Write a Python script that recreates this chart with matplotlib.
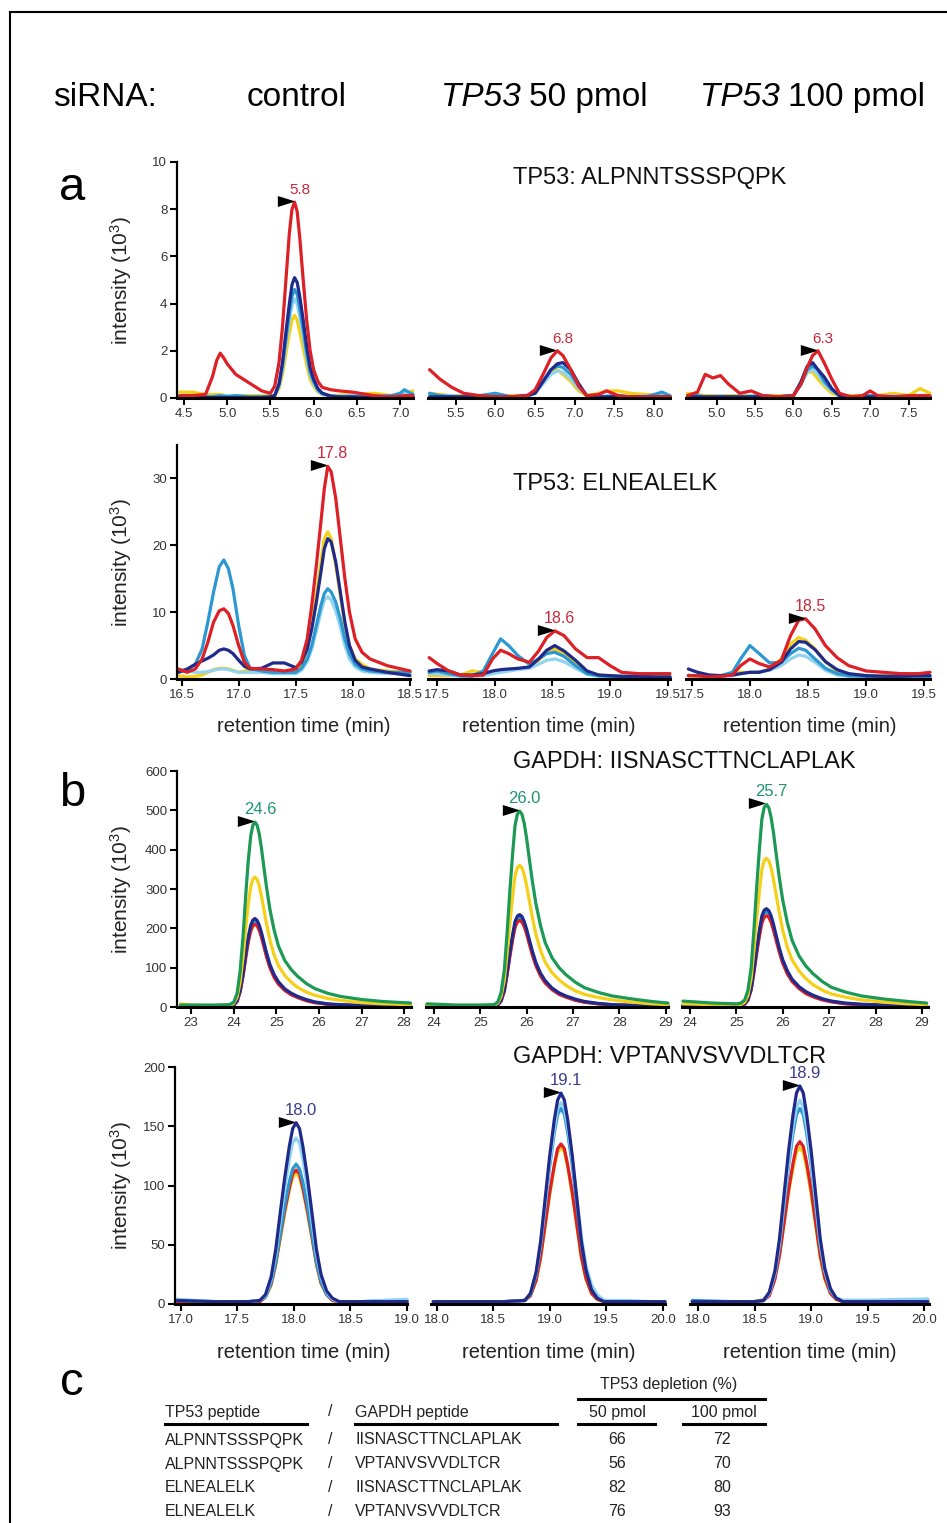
import matplotlib.pyplot as plt
from matplotlib.lines import Line2D
from matplotlib.transforms import offset_copy

plt.rcParams['font.family'] = ['Liberation Sans', 'DejaVu Sans']
plt.rcParams['mathtext.fontset'] = 'custom'
plt.rcParams['mathtext.rm'] = 'Liberation Sans'
plt.rcParams['mathtext.it'] = 'Liberation Sans:italic'

W, H = 947, 1523

# ---- data: retention time grids and intensities ----
# TP53: ALPNNTSSSPQPK (10^3), panels: control, 50 pmol, 100 pmol
alp_time = [
    [4.45, 4.6, 4.75, 4.83, 4.88, 4.92, 4.96, 5.0, 5.1, 5.25, 5.4, 5.5,
     5.55, 5.6, 5.64, 5.68, 5.72, 5.75, 5.78, 5.81, 5.84, 5.88, 5.92, 5.96, 6.0, 6.05, 6.1, 6.2,
     6.3, 6.45, 6.7, 6.9, 7.0, 7.05, 7.1, 7.15],
    [5.17, 5.3, 5.45, 5.6, 5.8, 6.0, 6.2, 6.4, 6.5, 6.6, 6.7, 6.78, 6.85, 6.95, 7.05, 7.15, 7.3, 7.4, 7.55, 7.7, 7.9, 8.1, 8.2],
    [4.62, 4.75, 4.85, 4.95, 5.05, 5.15, 5.3, 5.45, 5.6, 5.8, 6.0, 6.1, 6.18, 6.25, 6.32, 6.4, 6.5, 6.6, 6.75, 6.9, 7.0, 7.1, 7.3, 7.5, 7.65, 7.78],
]
alp_red = [
    [0.1, 0.1, 0.15, 0.9, 1.6, 1.9, 1.7, 1.45, 1.0, 0.65, 0.3, 0.2,
     0.5, 1.5, 3.0, 5.0, 7.0, 8.0, 8.3, 7.9, 6.8, 5.0, 3.3, 2.0, 1.2, 0.7, 0.45, 0.35,
     0.3, 0.25, 0.1, 0.05, 0.08, 0.1, 0.1, 0.1],
    [1.2, 0.8, 0.45, 0.2, 0.1, 0.05, 0.05, 0.1, 0.35, 1.0, 1.7, 2.0, 1.8, 1.2, 0.5, 0.1, 0.15, 0.3, 0.1, 0.05, 0.05, 0.05, 0.05],
    [0.1, 0.25, 1.0, 0.85, 0.95, 0.6, 0.2, 0.3, 0.1, 0.05, 0.1, 0.6, 1.3, 1.8, 2.0, 1.5, 0.8, 0.2, 0.05, 0.1, 0.3, 0.1, 0.05, 0.1, 0.1, 0.1],
]
alp_navy = [
    [0.05, 0.05, 0.02, 0.02, 0.02, 0.02, 0.02, 0.02, 0.02, 0.02, 0.02, 0.05,
     0.1, 0.6, 1.5, 2.8, 4.0, 4.8, 5.1, 4.9, 4.3, 3.3, 2.2, 1.3, 0.8, 0.4, 0.2, 0.08,
     0.05, 0.05, 0.02, 0.02, 0.03, 0.05, 0.05, 0.05],
    [0.05, 0.05, 0.05, 0.05, 0.05, 0.05, 0.05, 0.1, 0.2, 0.7, 1.2, 1.45, 1.5, 1.2, 0.6, 0.1, 0.05, 0.05, 0.05, 0.05, 0.05, 0.05, 0.05],
    [0.05, 0.05, 0.05, 0.05, 0.05, 0.05, 0.05, 0.05, 0.05, 0.05, 0.1, 0.7, 1.35, 1.5, 1.2, 0.9, 0.4, 0.1, 0.05, 0.05, 0.05, 0.05, 0.05, 0.05, 0.05, 0.05],
]
alp_cyan = [
    [0.1, 0.05, 0.05, 0.05, 0.08, 0.1, 0.08, 0.05, 0.1, 0.05, 0.05, 0.05,
     0.1, 0.55, 1.35, 2.5, 3.6, 4.3, 4.6, 4.4, 3.8, 2.9, 1.9, 1.1, 0.7, 0.35, 0.2, 0.08,
     0.05, 0.05, 0.05, 0.1, 0.2, 0.35, 0.25, 0.15],
    [0.2, 0.1, 0.05, 0.05, 0.1, 0.2, 0.05, 0.1, 0.25, 0.7, 1.2, 1.35, 1.3, 1.0, 0.5, 0.1, 0.05, 0.05, 0.1, 0.05, 0.05, 0.25, 0.1],
    [0.1, 0.1, 0.05, 0.05, 0.05, 0.05, 0.05, 0.05, 0.1, 0.05, 0.1, 0.6, 1.2, 1.35, 1.2, 0.7, 0.35, 0.1, 0.05, 0.05, 0.1, 0.05, 0.05, 0.05, 0.05, 0.05],
]
alp_lightblue = [
    [0.1, 0.1, 0.1, 0.05, 0.05, 0.05, 0.08, 0.1, 0.1, 0.05, 0.05, 0.05,
     0.1, 0.5, 1.25, 2.3, 3.3, 3.95, 4.2, 4.0, 3.45, 2.6, 1.7, 1.0, 0.6, 0.3, 0.15, 0.08,
     0.08, 0.1, 0.1, 0.1, 0.15, 0.2, 0.2, 0.2],
    [0.1, 0.1, 0.1, 0.05, 0.05, 0.1, 0.05, 0.05, 0.2, 0.6, 1.0, 1.15, 1.1, 0.8, 0.4, 0.1, 0.05, 0.1, 0.1, 0.05, 0.1, 0.1, 0.05],
    [0.1, 0.1, 0.05, 0.05, 0.1, 0.05, 0.05, 0.1, 0.05, 0.05, 0.1, 0.6, 1.1, 1.2, 1.0, 0.6, 0.3, 0.1, 0.05, 0.05, 0.05, 0.05, 0.1, 0.05, 0.05, 0.05],
]
alp_yellow = [
    [0.25, 0.25, 0.15, 0.15, 0.15, 0.15, 0.12, 0.1, 0.1, 0.1, 0.1, 0.1,
     0.1, 0.4, 1.0, 1.9, 2.75, 3.3, 3.5, 3.3, 2.8, 2.1, 1.4, 0.8, 0.5, 0.25, 0.15, 0.1,
     0.12, 0.15, 0.2, 0.1, 0.12, 0.15, 0.25, 0.3],
    [0.2, 0.15, 0.1, 0.1, 0.05, 0.05, 0.1, 0.1, 0.2, 0.7, 1.15, 1.2, 1.0, 0.7, 0.3, 0.1, 0.2, 0.3, 0.3, 0.2, 0.15, 0.1, 0.1],
    [0.2, 0.15, 0.1, 0.1, 0.1, 0.1, 0.1, 0.1, 0.1, 0.1, 0.1, 0.6, 1.1, 1.1, 0.8, 0.5, 0.2, 0.1, 0.1, 0.1, 0.1, 0.1, 0.2, 0.1, 0.4, 0.2],
]

# TP53: ELNEALELK (10^3)
eln_time = [
    [16.47, 16.55, 16.62, 16.68, 16.73, 16.78, 16.83, 16.87, 16.91, 16.95, 17.0, 17.05, 17.1, 17.2, 17.3, 17.4, 17.5,
     17.55, 17.6, 17.64, 17.68, 17.72, 17.75, 17.78, 17.81, 17.85, 17.89, 17.93, 17.97, 18.02, 18.08, 18.15, 18.3, 18.5],
    [17.43, 17.5, 17.6, 17.7, 17.8, 17.9, 17.98, 18.05, 18.12, 18.2, 18.3, 18.38, 18.45, 18.52, 18.6, 18.7, 18.8, 18.9, 19.0, 19.1, 19.25, 19.4, 19.52],
    [17.47, 17.55, 17.65, 17.75, 17.85, 17.92, 18.0, 18.08, 18.17, 18.27, 18.35, 18.42, 18.48, 18.56, 18.65, 18.75, 18.85, 19.0, 19.15, 19.3, 19.45, 19.55],
]
eln_red = [
    [1.5, 1.0, 1.5, 3.0, 5.5, 8.5, 10.2, 10.5, 9.8, 8.0, 5.0, 2.5, 1.6, 1.5, 1.4, 1.2, 1.5,
     2.8, 6.0, 11.0, 17.0, 23.5, 28.5, 31.8, 31.0, 27.0, 21.0, 15.0, 10.0, 6.0, 4.0, 3.0, 2.0, 1.2],
    [3.2, 2.3, 1.2, 0.6, 0.5, 0.6, 3.0, 4.3, 3.8, 3.0, 2.5, 4.2, 6.2, 7.2, 6.5, 4.5, 3.2, 3.2, 2.0, 1.0, 0.8, 0.8, 0.8],
    [0.5, 0.5, 0.3, 0.4, 0.6, 2.0, 3.0, 2.3, 1.8, 2.8, 6.5, 8.8, 9.0, 7.5, 5.0, 3.2, 2.0, 1.2, 1.0, 0.8, 0.8, 1.0],
]
eln_navy = [
    [1.0, 1.5, 2.2, 2.7, 3.1, 3.6, 4.3, 4.5, 4.3, 3.8, 2.8, 1.9, 1.5, 1.6, 2.4, 2.4, 1.7,
     2.5, 4.5, 7.5, 11.5, 16.0, 19.5, 21.0, 20.5, 17.5, 13.0, 8.5, 5.0, 2.8, 1.8, 1.5, 1.0, 0.5],
    [1.2, 1.4, 1.2, 0.6, 0.6, 0.8, 1.2, 1.4, 1.5, 1.6, 1.8, 3.0, 4.3, 5.0, 4.2, 2.8, 1.2, 0.6, 0.5, 0.4, 0.4, 0.3, 0.3],
    [1.5, 1.0, 0.6, 0.5, 0.6, 0.8, 1.0, 1.0, 1.4, 2.5, 4.5, 5.6, 5.5, 4.4, 2.6, 1.4, 0.8, 0.5, 0.4, 0.4, 0.5, 0.5],
]
eln_cyan = [
    [1.0, 1.4, 2.2, 4.5, 8.5, 13.0, 16.8, 17.8, 16.5, 13.5, 8.0, 3.5, 1.6, 1.2, 1.0, 1.0, 1.0,
     1.6, 3.0, 5.0, 8.0, 11.0, 12.8, 13.5, 13.0, 11.5, 9.0, 6.0, 3.8, 2.2, 1.5, 1.2, 1.0, 1.0],
    [1.0, 1.2, 0.8, 0.5, 0.4, 1.2, 3.8, 6.0, 5.0, 3.5, 2.2, 3.0, 3.8, 4.0, 3.4, 2.0, 0.8, 0.5, 0.4, 0.4, 0.4, 0.3, 0.3],
    [0.5, 0.5, 0.4, 0.5, 1.0, 3.0, 5.0, 3.8, 2.4, 2.5, 3.8, 4.6, 4.3, 3.0, 1.6, 0.8, 0.5, 0.4, 0.4, 0.4, 0.4, 0.4],
]
eln_lightblue = [
    [1.5, 1.2, 1.0, 1.0, 1.1, 1.3, 1.5, 1.5, 1.4, 1.2, 1.0, 1.0, 1.0, 1.0, 0.8, 0.8, 0.8,
     1.3, 2.6, 4.5, 7.2, 10.0, 11.8, 12.3, 11.8, 10.2, 7.8, 5.0, 3.0, 1.8, 1.2, 1.0, 0.8, 0.8],
    [0.8, 0.8, 0.6, 0.4, 0.4, 0.5, 0.8, 1.0, 1.2, 1.4, 1.6, 2.2, 2.8, 3.0, 2.6, 1.6, 0.7, 0.4, 0.3, 0.3, 0.3, 0.3, 0.3],
    [0.6, 0.5, 0.4, 0.4, 0.5, 0.8, 1.0, 1.1, 1.3, 2.0, 3.0, 3.6, 3.4, 2.5, 1.3, 0.6, 0.4, 0.3, 0.3, 0.3, 0.3, 0.3],
]
eln_yellow = [
    [0.5, 0.3, 0.4, 0.6, 1.0, 1.4, 1.6, 1.6, 1.5, 1.3, 1.0, 1.2, 1.5, 1.2, 1.0, 1.0, 1.0,
     2.0, 4.5, 8.0, 12.5, 17.5, 21.0, 22.0, 21.0, 17.0, 12.5, 8.0, 5.0, 3.0, 2.2, 1.5, 1.2, 1.0],
    [0.5, 0.5, 0.5, 0.6, 1.2, 1.0, 1.0, 1.2, 1.3, 1.5, 1.8, 2.8, 4.0, 4.5, 3.8, 2.3, 1.0, 0.6, 0.5, 0.4, 0.4, 0.4, 0.4],
    [0.5, 0.4, 0.4, 0.5, 0.8, 1.0, 1.0, 1.0, 1.5, 3.0, 5.2, 6.2, 5.8, 4.5, 2.6, 1.2, 0.7, 0.5, 0.5, 0.5, 0.5, 0.5],
]

# GAPDH: IISNASCTTNCLAPLAK (10^3)
iis_time = [
    [22.75, 23.0, 23.5, 23.9, 24.0, 24.08, 24.15, 24.22, 24.28, 24.34, 24.4, 24.45, 24.5, 24.55, 24.6, 24.65,
     24.7, 24.77, 24.85, 24.95, 25.05, 25.2, 25.35, 25.5, 25.7, 25.9, 26.2, 26.5, 27.0, 27.5, 28.15],
    [23.85, 24.5, 25.0, 25.3, 25.38, 25.45, 25.52, 25.58, 25.64, 25.7, 25.75, 25.8, 25.85, 25.9, 25.95, 26.0,
     26.05, 26.12, 26.2, 26.3, 26.4, 26.55, 26.7, 26.85, 27.05, 27.25, 27.55, 27.85, 28.3, 28.7, 29.05],
    [23.85, 24.5, 25.0, 25.1, 25.18, 25.25, 25.32, 25.38, 25.44, 25.5, 25.55, 25.6, 25.65, 25.7, 25.75, 25.8,
     25.85, 25.92, 26.0, 26.1, 26.2, 26.35, 26.5, 26.65, 26.85, 27.05, 27.35, 27.7, 28.2, 28.7, 29.1],
]
iis_green = [
    [5, 5, 5, 6, 12, 35, 90, 180, 280, 370, 435, 462, 470, 462, 440, 405, 362, 305, 248, 195, 155, 118, 95, 78, 60, 47, 35, 27, 19, 14, 10],
    [8, 5, 5, 6, 13, 37, 95, 190, 297, 392, 461, 490, 498, 490, 466, 429, 384, 323, 263, 207, 164, 125, 100, 82, 63, 49, 37, 28, 20, 14, 10],
    [15, 10, 8, 10, 18, 42, 100, 197, 307, 405, 477, 507, 515, 507, 482, 444, 397, 334, 272, 214, 170, 130, 104, 85, 65, 50, 38, 28, 20, 14, 10],
]
iis_yellow = [
    [8, 5, 3, 3, 9, 25, 63, 126, 197, 260, 306, 325, 330, 324, 308, 283, 253, 212, 170, 132, 105, 80, 63, 50, 38, 30, 22, 17, 11, 8, 6],
    [5, 4, 4, 4, 10, 27, 69, 137, 215, 283, 333, 354, 360, 354, 336, 309, 276, 231, 185, 144, 114, 87, 69, 55, 41, 32, 24, 18, 12, 8, 6],
    [8, 6, 5, 6, 12, 29, 73, 144, 225, 297, 350, 372, 378, 372, 354, 325, 291, 244, 195, 152, 120, 92, 72, 57, 43, 33, 25, 18, 12, 8, 6],
]
iis_navy = [
    [2, 2, 2, 2, 5, 16, 42, 86, 134, 177, 208, 221, 225, 220, 208, 190, 168, 138, 108, 82, 64, 46, 35, 27, 19, 13, 8, 6, 4, 3, 2],
    [3, 3, 3, 3, 6, 17, 44, 90, 140, 185, 217, 231, 235, 230, 217, 198, 175, 144, 113, 86, 67, 48, 36, 28, 20, 14, 9, 6, 4, 3, 3],
    [5, 4, 3, 4, 8, 19, 47, 95, 149, 197, 231, 246, 250, 245, 232, 211, 186, 153, 120, 92, 71, 52, 39, 30, 21, 15, 10, 7, 5, 4, 3],
]
iis_red = [
    [2, 2, 2, 2, 4, 14, 38, 78, 123, 164, 193, 206, 210, 206, 195, 178, 157, 128, 100, 75, 58, 42, 31, 24, 16, 11, 7, 5, 3, 2, 2],
    [3, 3, 3, 3, 5, 15, 40, 82, 129, 172, 202, 216, 220, 216, 204, 186, 164, 134, 105, 79, 61, 44, 32, 25, 17, 12, 8, 5, 4, 3, 3],
    [4, 3, 3, 3, 7, 17, 43, 87, 137, 181, 213, 228, 232, 228, 215, 196, 173, 142, 111, 84, 65, 47, 34, 26, 18, 13, 8, 6, 4, 3, 3],
]
iis_cyan = [
    [3, 3, 3, 3, 5, 15, 40, 82, 128, 170, 200, 214, 218, 213, 201, 184, 162, 133, 104, 79, 61, 44, 33, 25, 17, 12, 7, 5, 4, 3, 3],
    [3, 3, 3, 3, 6, 16, 42, 86, 134, 178, 209, 224, 228, 223, 210, 192, 170, 139, 109, 82, 64, 46, 34, 26, 18, 13, 8, 6, 4, 3, 3],
    [4, 4, 3, 4, 8, 18, 45, 92, 144, 190, 224, 238, 242, 237, 224, 204, 180, 148, 116, 88, 68, 50, 37, 28, 20, 14, 9, 6, 4, 3, 3],
]

# GAPDH: VPTANVSVVDLTCR (10^3)
vpt_time = [
    [16.97, 17.3, 17.6, 17.7, 17.75, 17.8, 17.84, 17.88, 17.92, 17.96, 17.99, 18.02,
     18.05, 18.08, 18.12, 18.16, 18.2, 18.24, 18.29, 18.34, 18.4, 18.6, 18.8, 19.0],
    [17.97, 18.3, 18.6, 18.78, 18.83, 18.88, 18.92, 18.96, 19.0, 19.04, 19.07, 19.1,
     19.13, 19.16, 19.2, 19.24, 19.28, 19.32, 19.37, 19.42, 19.48, 19.68, 19.88, 20.02],
    [17.95, 18.3, 18.5, 18.58, 18.63, 18.68, 18.72, 18.76, 18.8, 18.84, 18.87, 18.9,
     18.93, 18.96, 19.0, 19.04, 19.08, 19.12, 19.17, 19.22, 19.28, 19.5, 19.8, 20.03],
]
vpt_navy = [
    [3, 2, 2, 3, 8, 23, 46, 77, 107, 133, 148, 153, 148, 133, 107, 77, 46, 25, 11, 5, 2, 2, 2, 2],
    [2, 2, 2, 3, 9, 27, 53, 89, 125, 155, 172, 178, 172, 155, 125, 89, 53, 29, 12, 5, 2, 2, 2, 2],
    [2, 2, 2, 3, 10, 28, 55, 92, 129, 160, 178, 184, 178, 160, 129, 92, 55, 30, 13, 5, 2, 2, 2, 2],
]
vpt_lightblue = [
    [4, 2, 2, 3, 7, 21, 42, 70, 98, 122, 136, 140, 136, 122, 98, 70, 42, 23, 10, 4, 2, 2, 3, 4],
    [2, 2, 2, 3, 9, 26, 51, 85, 119, 148, 165, 170, 165, 149, 122, 90, 57, 33, 16, 8, 3, 3, 2, 2],
    [2, 2, 2, 3, 9, 26, 51, 86, 120, 150, 166, 172, 166, 150, 120, 86, 51, 28, 12, 5, 3, 3, 4, 4],
]
vpt_cyan = [
    [3, 2, 2, 3, 6, 18, 35, 59, 83, 103, 114, 118, 114, 103, 83, 59, 35, 19, 8, 4, 2, 2, 3, 3],
    [2, 2, 2, 3, 8, 25, 49, 82, 116, 144, 160, 165, 160, 144, 117, 84, 51, 29, 13, 6, 3, 2, 2, 2],
    [3, 2, 2, 3, 9, 25, 49, 82, 116, 144, 160, 165, 160, 144, 116, 82, 49, 27, 11, 5, 3, 3, 3, 4],
]
vpt_red = [
    [2, 2, 2, 2, 6, 17, 34, 57, 79, 98, 110, 113, 110, 98, 79, 57, 34, 18, 8, 3, 2, 2, 2, 2],
    [2, 2, 2, 3, 7, 20, 40, 67, 94, 117, 131, 135, 131, 117, 94, 67, 40, 22, 9, 4, 2, 2, 2, 2],
    [2, 2, 2, 3, 7, 21, 41, 68, 96, 119, 133, 137, 133, 119, 96, 68, 41, 22, 9, 4, 2, 2, 2, 2],
]
vpt_yellow = [
    [2, 2, 2, 2, 6, 16, 33, 55, 77, 96, 107, 110, 107, 96, 77, 55, 33, 17, 8, 3, 2, 2, 2, 2],
    [2, 2, 2, 3, 7, 20, 39, 66, 92, 115, 128, 132, 128, 115, 92, 66, 39, 21, 9, 4, 2, 2, 2, 2],
    [2, 2, 2, 4, 9, 23, 42, 68, 94, 115, 128, 132, 128, 115, 92, 66, 39, 21, 9, 4, 2, 2, 2, 2],
]

# apex retention times written above the peaks
peak_labels = [
    ['5.8', '6.8', '6.3'],
    ['17.8', '18.6', '18.5'],
    ['24.6', '26.0', '25.7'],
    ['18.0', '19.1', '18.9'],
]

# table c
tp53_peptides = ['ALPNNTSSSPQPK', 'ALPNNTSSSPQPK', 'ELNEALELK', 'ELNEALELK']
gapdh_peptides = ['IISNASCTTNCLAPLAK', 'VPTANVSVVDLTCR', 'IISNASCTTNCLAPLAK', 'VPTANVSVVDLTCR']
depletion_50 = [66, 56, 82, 76]
depletion_100 = [72, 70, 80, 93]

# ---- colours ----
RED = '#dd1f26'
YEL = '#f5d016'
LBL = '#92d3f0'
CYN = '#2b98d2'
NAV = '#1f2a8a'
GRN = '#1c9a55'

rows = [
    dict(time=alp_time,
         series=[(YEL, alp_yellow), (LBL, alp_lightblue), (CYN, alp_cyan), (NAV, alp_navy), (RED, alp_red)],
         top=alp_red, lab_color='#c8283a', lab_fs=11,
         top_px=162, bot_px=398, xpx=[(177, 413), (428, 670), (686, 930)],
         xlim=[(4.42, 7.15), (5.15, 8.2), (4.6, 7.78)], ylim=10,
         xticks=[[4.5, 5.0, 5.5, 6.0, 6.5, 7.0], [5.5, 6.0, 6.5, 7.0, 7.5, 8.0], [5.0, 5.5, 6.0, 6.5, 7.0, 7.5]],
         yticks=[0, 2, 4, 6, 8, 10], fmt='%.1f', title='TP53: ALPNNTSSSPQPK', title_y=178),
    dict(time=eln_time,
         series=[(YEL, eln_yellow), (LBL, eln_lightblue), (CYN, eln_cyan), (NAV, eln_navy), (RED, eln_red)],
         top=eln_red, lab_color='#c8283a', lab_fs=11.5,
         top_px=445, bot_px=679, xpx=[(177, 410), (428, 670), (686, 930)],
         xlim=[(16.46, 18.5), (17.42, 19.52), (17.45, 19.55)], ylim=35,
         xticks=[[16.5, 17.0, 17.5, 18.0, 18.5], [17.5, 18.0, 18.5, 19.0, 19.5], [17.5, 18.0, 18.5, 19.0, 19.5]],
         yticks=[0, 10, 20, 30], fmt='%.1f', title='TP53: ELNEALELK', title_y=484),
    dict(time=iis_time,
         series=[(CYN, iis_cyan), (RED, iis_red), (NAV, iis_navy), (YEL, iis_yellow), (GRN, iis_green)],
         top=iis_green, lab_color='#1f9470', lab_fs=12,
         top_px=771, bot_px=1007, xpx=[(177, 411), (426, 668), (682, 928)],
         xlim=[(22.67, 28.16), (23.83, 29.05), (23.83, 29.13)], ylim=600,
         xticks=[[23, 24, 25, 26, 27, 28], [24, 25, 26, 27, 28, 29], [24, 25, 26, 27, 28, 29]],
         yticks=[0, 100, 200, 300, 400, 500, 600], fmt='%d', title='GAPDH: IISNASCTTNCLAPLAK', title_y=762),
    dict(time=vpt_time,
         series=[(YEL, vpt_yellow), (RED, vpt_red), (CYN, vpt_cyan), (LBL, vpt_lightblue), (NAV, vpt_navy)],
         top=vpt_navy, lab_color='#3c3c8c', lab_fs=12,
         top_px=1067, bot_px=1304, xpx=[(175, 407), (431, 665), (690, 929)],
         xlim=[(16.95, 19.0), (17.95, 20.02), (17.93, 20.04)], ylim=200,
         xticks=[[17.0, 17.5, 18.0, 18.5, 19.0], [18.0, 18.5, 19.0, 19.5, 20.0], [18.0, 18.5, 19.0, 19.5, 20.0]],
         yticks=[0, 50, 100, 150, 200], fmt='%.1f', title='GAPDH: VPTANVSVVDLTCR', title_y=1057),
]

fig = plt.figure(figsize=(W / 100, H / 100), dpi=100)


def fx(x):
    return x / W


def fy(y):
    return 1 - y / H


tri = [(-1, -0.62), (1, 0), (-1, 0.62)]

for r, row in enumerate(rows):
    for p in range(3):
        l, rt = row['xpx'][p]
        ax = fig.add_axes([fx(l), fy(row['bot_px']), (rt - l) / W, (row['bot_px'] - row['top_px']) / H])
        t = row['time'][p]
        for color, vals in row['series']:
            ax.plot(t, vals[p], color=color, lw=2.3, solid_joinstyle='round', solid_capstyle='round',
                    clip_on=False)

        # apex marker and label
        top_vals = row['top'][p]
        i = top_vals.index(max(top_vals))
        ax.plot(t[i], top_vals[i], marker=tri, color='k', ms=11, clip_on=False, zorder=6,
                transform=offset_copy(ax.transData, fig=fig, x=-10, y=1, units='dots'))
        ax.text(t[i], top_vals[i], peak_labels[r][p], color=row['lab_color'], fontsize=row['lab_fs'],
                ha='center', va='bottom',
                transform=offset_copy(ax.transData, fig=fig, x=5, y=5, units='dots'))

        ax.set_xlim(*row['xlim'][p])
        ax.set_ylim(0, row['ylim'])
        ax.set_xticks(row['xticks'][p])
        ax.set_xticklabels([row['fmt'] % v for v in row['xticks'][p]])
        for s in ['top', 'right']:
            ax.spines[s].set_visible(False)
        ax.spines['bottom'].set_linewidth(2.2)
        ax.spines['left'].set_linewidth(1.6)
        ax.tick_params(axis='both', direction='out', length=5, width=1.5, labelsize=9.5,
                       labelcolor='#333333', pad=2)
        if p == 0:
            ax.set_yticks(row['yticks'])
        else:
            ax.spines['left'].set_visible(False)
            ax.set_yticks([])
        ax.patch.set_visible(False)

    # y label and title
    fig.text(fx(121), fy((row['top_px'] + row['bot_px']) / 2), 'intensity (10$^3$)',
             rotation=90, ha='center', va='center', fontsize=15, color='#222222')
    fig.text(fx(513), fy(row['title_y']), row['title'], ha='left', va='center', fontsize=17, color='#111111')

# x labels under the second and fourth rows
for y in [726, 1352]:
    for cx in [304, 549, 810]:
        fig.text(fx(cx), fy(y), 'retention time (min)', ha='center', va='center', fontsize=14.5,
                 color='#222222')

# header
hdr_y = fy(106)
fig.text(fx(53), hdr_y, 'siRNA:', ha='left', va='baseline', fontsize=24)
fig.text(fx(297), hdr_y, 'control', ha='center', va='baseline', fontsize=24)
fig.text(fx(441), hdr_y, 'TP53', ha='left', va='baseline', fontsize=24, style='italic')
fig.text(fx(648), hdr_y, '50 pmol', ha='right', va='baseline', fontsize=24)
fig.text(fx(700), hdr_y, 'TP53', ha='left', va='baseline', fontsize=24, style='italic')
fig.text(fx(925), hdr_y, '100 pmol', ha='right', va='baseline', fontsize=24)

# panel letters
fig.text(fx(72), fy(200), 'a', ha='center', va='baseline', fontsize=34)
fig.text(fx(72), fy(806), 'b', ha='center', va='baseline', fontsize=34)
fig.text(fx(72), fy(1395), 'c', ha='center', va='baseline', fontsize=34)

# table c
tfs = 11.5
tc = '#222222'


def hline(x0, x1, y, lw=2.2):
    fig.add_artist(Line2D([fx(x0), fx(x1)], [fy(y), fy(y)], transform=fig.transFigure, color='k', lw=lw))


fig.text(fx(669), fy(1385), 'TP53 depletion (%)', ha='center', va='center', fontsize=tfs, color=tc)
hline(578, 765, 1399)
fig.text(fx(165), fy(1412), 'TP53 peptide', ha='left', va='center', fontsize=tfs, color=tc)
hline(165, 307, 1424)
fig.text(fx(330), fy(1412), '/', ha='center', va='center', fontsize=tfs, color=tc)
fig.text(fx(355), fy(1412), 'GAPDH peptide', ha='left', va='center', fontsize=tfs, color=tc)
hline(355, 557, 1424)
fig.text(fx(617), fy(1412), '50 pmol', ha='center', va='center', fontsize=tfs, color=tc)
hline(578, 655, 1424)
fig.text(fx(724), fy(1412), '100 pmol', ha='center', va='center', fontsize=tfs, color=tc)
hline(683, 765, 1424)

for k in range(len(tp53_peptides)):
    y = fy(1440 + 24 * k)
    fig.text(fx(165), y, tp53_peptides[k], ha='left', va='center', fontsize=tfs, color=tc)
    fig.text(fx(330), y, '/', ha='center', va='center', fontsize=tfs, color=tc)
    fig.text(fx(355), y, gapdh_peptides[k], ha='left', va='center', fontsize=tfs, color=tc)
    fig.text(fx(617), y, str(depletion_50[k]), ha='center', va='center', fontsize=tfs, color=tc)
    fig.text(fx(722), y, str(depletion_100[k]), ha='center', va='center', fontsize=tfs, color=tc)

# frame (top and left edges only)
fig.add_artist(Line2D([fx(10), 1], [fy(12), fy(12)], transform=fig.transFigure, color='k', lw=1.5))
fig.add_artist(Line2D([fx(10), fx(10)], [fy(12), 0], transform=fig.transFigure, color='k', lw=1.5))

fig.savefig('out.png', dpi=100)
